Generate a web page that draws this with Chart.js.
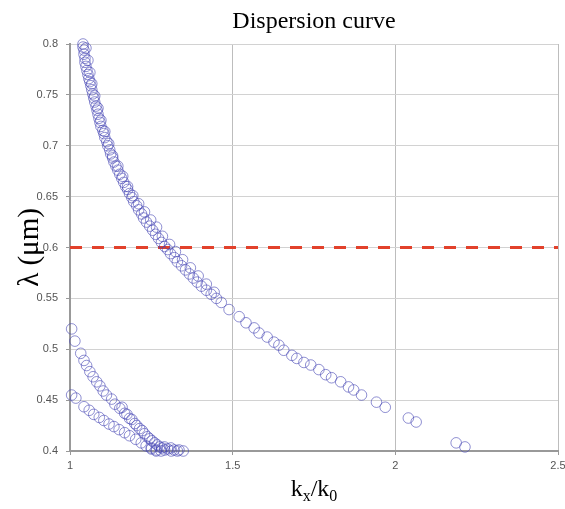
<!DOCTYPE html>
<html>
<head>
<meta charset="utf-8">
<script src="https://cdn.jsdelivr.net/npm/chart.js@4/dist/chart.umd.min.js"></script>
<style>
  html, body { margin: 0; padding: 0; background: #fff; }
  #wrap { width: 565px; height: 509px; }
</style>
</head>
<body>
<div id="wrap"><canvas id="chart"></canvas></div>
<script>
// ---- data: wavevector ratio kx/k0 and wavelength (um) for each branch ----
const upperK = [
  1.040, 1.040, 1.043, 1.043, 1.046, 1.046, 1.049, 1.052, 1.055, 1.058, 1.061, 1.064, 1.067, 1.070,
  1.073, 1.076, 1.080, 1.083, 1.086, 1.089, 1.092, 1.095, 1.101, 1.104, 1.107, 1.113, 1.116, 1.122,
  1.125, 1.131, 1.135, 1.141, 1.147, 1.153, 1.159, 1.165, 1.171, 1.177, 1.183, 1.190, 1.196, 1.205,
  1.211, 1.220, 1.226, 1.235, 1.245, 1.254, 1.263, 1.272, 1.281, 1.291, 1.300, 1.309, 1.321, 1.330,
  1.343, 1.355, 1.367, 1.379, 1.391, 1.404, 1.419, 1.434, 1.450,
  1.049, 1.055, 1.061, 1.067, 1.076, 1.086, 1.095, 1.107, 1.119, 1.131, 1.147, 1.162, 1.177, 1.193,
  1.211, 1.229, 1.248, 1.266, 1.284, 1.306, 1.324, 1.346, 1.370, 1.394, 1.419, 1.443,
  1.465, 1.489, 1.520, 1.541, 1.566, 1.581, 1.606, 1.627, 1.642, 1.657, 1.682, 1.697, 1.719, 1.740,
  1.765, 1.786, 1.804, 1.832, 1.856, 1.872, 1.896, 1.942, 1.969, 2.040, 2.064, 2.187, 2.214
];
const upperLambda = [
  0.800, 0.797, 0.794, 0.790, 0.786, 0.782, 0.778, 0.774, 0.770, 0.766, 0.763, 0.759, 0.755, 0.751,
  0.747, 0.743, 0.739, 0.735, 0.731, 0.727, 0.723, 0.719, 0.715, 0.712, 0.708, 0.704, 0.700, 0.696,
  0.692, 0.688, 0.684, 0.680, 0.676, 0.672, 0.668, 0.664, 0.660, 0.657, 0.653, 0.649, 0.645, 0.641,
  0.637, 0.633, 0.629, 0.625, 0.621, 0.617, 0.613, 0.609, 0.605, 0.601, 0.598, 0.594, 0.590, 0.586,
  0.582, 0.578, 0.574, 0.570, 0.566, 0.562, 0.558, 0.554, 0.550,
  0.796, 0.784, 0.772, 0.761, 0.749, 0.737, 0.725, 0.714, 0.702, 0.690, 0.680, 0.670, 0.660, 0.651,
  0.643, 0.635, 0.627, 0.620, 0.611, 0.603, 0.596, 0.588, 0.580, 0.572, 0.564, 0.556,
  0.546, 0.539, 0.532, 0.526, 0.521, 0.516, 0.512, 0.507, 0.504, 0.499, 0.494, 0.491, 0.487, 0.4845,
  0.480, 0.475, 0.472, 0.468, 0.463, 0.460, 0.455, 0.448, 0.443, 0.4324, 0.4285, 0.408, 0.404
];

const middleK = [
  1.005, 1.015, 1.033, 1.043, 1.051, 1.061, 1.071, 1.082, 1.092, 1.102, 1.112, 1.128, 1.138, 1.153,
  1.168, 1.183, 1.199, 1.214, 1.229, 1.245, 1.260, 1.275, 1.291, 1.311, 1.330, 1.348,
  1.160, 1.175, 1.190, 1.205, 1.222, 1.238, 1.252, 1.268, 1.283, 1.300, 1.320, 1.335, 1.250, 1.265,
  1.290, 1.310
];
const middleLambda = [
  0.520, 0.508, 0.496, 0.489, 0.484, 0.478, 0.473, 0.468, 0.464, 0.459, 0.455, 0.451, 0.446, 0.442,
  0.437, 0.432, 0.427, 0.422, 0.417, 0.412, 0.408, 0.404, 0.401, 0.400, 0.400, 0.400,
  0.443, 0.436, 0.431, 0.425, 0.420, 0.414, 0.410, 0.406, 0.403, 0.402, 0.401, 0.401, 0.403, 0.401,
  0.404, 0.403
];

const lowerK = [
  1.005, 1.018, 1.043, 1.059, 1.073, 1.090, 1.104, 1.120, 1.135, 1.151, 1.168, 1.183, 1.202, 1.219,
  1.234, 1.250, 1.265, 1.280
];
const lowerLambda = [
  0.455, 0.452, 0.4435, 0.440, 0.436, 0.433, 0.430, 0.4265, 0.424, 0.421, 0.418, 0.415, 0.4115, 0.408,
  0.405, 0.402, 0.400, 0.400
];

// operating wavelength marker
const markerLambda = 0.6;

const xTicks = [1, 1.5, 2, 2.5];
const yTicks = [0.4, 0.45, 0.5, 0.55, 0.6, 0.65, 0.7, 0.75, 0.8];

const pts = (xs, ys) => xs.map((x, i) => ({ x, y: ys[i] }));

const circleStyle = {
  showLine: false,
  pointStyle: 'circle',
  pointRadius: 5.3,
  pointHoverRadius: 5.3,
  borderWidth: 1,
  borderColor: 'rgba(70, 70, 180, 0.6)',
  backgroundColor: 'rgba(0, 0, 0, 0)',
  clip: false,
};

// title and axis titles (the x title needs subscripts, so draw it by hand)
const textPlugin = {
  id: 'textPlugin',
  afterDraw(chart) {
    const ctx = chart.ctx;
    const area = chart.chartArea;
    const cx = (area.left + area.right) / 2;
    ctx.save();
    ctx.fillStyle = '#000';

    ctx.font = '24px "Liberation Serif"';
    ctx.textAlign = 'center';
    ctx.textBaseline = 'alphabetic';
    ctx.fillText('Dispersion curve', cx, 28);

    ctx.save();
    ctx.translate(30, (area.top + area.bottom) / 2);
    ctx.rotate(-Math.PI / 2);
    ctx.font = '29px "Liberation Serif"';
    ctx.textBaseline = 'middle';
    ctx.fillText('λ (μm)', 0, 0);
    ctx.restore();

    const parts = [
      { t: 'k', size: 24, dy: 0 },
      { t: 'x', size: 16, dy: 5 },
      { t: '/', size: 24, dy: 0 },
      { t: 'k', size: 24, dy: 0 },
      { t: '0', size: 16, dy: 5 },
    ];
    let total = 0;
    parts.forEach(p => {
      ctx.font = p.size + 'px "Liberation Serif"';
      p.w = ctx.measureText(p.t).width;
      total += p.w;
    });
    let x = cx - total / 2;
    ctx.textAlign = 'left';
    parts.forEach(p => {
      ctx.font = p.size + 'px "Liberation Serif"';
      ctx.fillText(p.t, x, 496 + p.dy);
      x += p.w;
    });
    ctx.restore();
  }
};

new Chart(document.getElementById('chart'), {
  type: 'scatter',
  data: {
    datasets: [
      { ...circleStyle, data: pts(upperK, upperLambda) },
      { ...circleStyle, data: pts(middleK, middleLambda) },
      { ...circleStyle, data: pts(lowerK, lowerLambda) },
      {
        type: 'line',
        data: [{ x: xTicks[0], y: markerLambda }, { x: xTicks[xTicks.length - 1], y: markerLambda }],
        borderColor: '#e2412b',
        borderWidth: 3,
        borderDash: [12, 10],
        pointRadius: 0,
        fill: false,
      },
    ]
  },
  options: {
    responsive: true,
    maintainAspectRatio: false,
    animation: false,
    layout: { padding: { top: 44, right: 7, left: 0, bottom: 0 } },
    plugins: {
      legend: { display: false },
      tooltip: { enabled: false },
    },
    scales: {
      x: {
        type: 'linear',
        min: 1,
        max: 2.5,
        afterBuildTicks: axis => { axis.ticks = xTicks.map(v => ({ value: v })); },
        afterFit: scale => {
          scale.height = 58;
          scale.paddingLeft = 0;
          scale.paddingRight = 0;
        },
        grid: { color: '#bdbdbd', tickLength: 4, tickColor: '#999' },
        border: { color: '#999', width: 2 },
        ticks: {
          color: '#555',
          padding: 4,
          maxRotation: 0,
          font: { size: 11, family: 'Liberation Sans' },
          callback: v => String(v),
        },
      },
      y: {
        type: 'linear',
        min: 0.4,
        max: 0.8,
        afterBuildTicks: axis => { axis.ticks = yTicks.map(v => ({ value: v })); },
        afterFit: scale => { scale.width = 70; },
        grid: { color: '#d2d2d2', tickLength: 4, tickColor: '#999' },
        border: { color: '#999', width: 2 },
        ticks: {
          color: '#555',
          padding: 8,
          font: { size: 11, family: 'Liberation Sans' },
          callback: v => String(v),
        },
      },
    },
  },
  plugins: [textPlugin],
});
</script>
</body>
</html>
